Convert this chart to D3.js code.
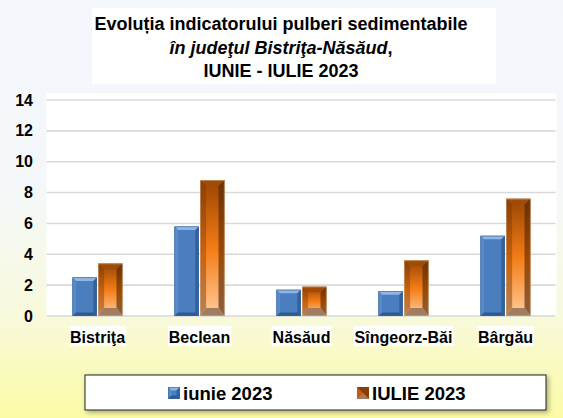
<!DOCTYPE html>
<html><head><meta charset="utf-8">
<script src="https://cdn.jsdelivr.net/npm/d3@7"></script>
<style>html,body{margin:0;padding:0;}svg{display:block;}</style>
</head><body>
<script>
const categories = ["Bistriţa", "Beclean", "Năsăud", "Sîngeorz-Băi", "Bârgău"];
const seriesNames = ["iunie 2023", "IULIE 2023"];
const iunie = [2.5, 5.8, 1.7, 1.6, 5.2];
const iulie = [3.4, 8.8, 1.9, 3.6, 7.6];
const yTicks = [0, 2, 4, 6, 8, 10, 12, 14];
const titleLines = ["Evoluția indicatorului pulberi sedimentabile", "în judeţul Bistriţa-Năsăud", "IUNIE - IULIE 2023"];

const W = 563, H = 418;
const svg = d3.select("body").append("svg").attr("width", W).attr("height", H);
const defs = svg.append("defs");

const bg = defs.append("linearGradient").attr("id", "bg").attr("x1", 0).attr("y1", 0).attr("x2", 0).attr("y2", 1);
bg.append("stop").attr("offset", "0%").attr("stop-color", "#f3f7fc");
bg.append("stop").attr("offset", "45%").attr("stop-color", "#f4f8fa");
bg.append("stop").attr("offset", "75%").attr("stop-color", "#f8f9dc");
bg.append("stop").attr("offset", "100%").attr("stop-color", "#fbfba6");

const og = defs.append("linearGradient").attr("id", "og").attr("x1", 0).attr("y1", 0).attr("x2", 0).attr("y2", 1);
og.append("stop").attr("offset", "0%").attr("stop-color", "#9a4504");
og.append("stop").attr("offset", "50%").attr("stop-color", "#f37c16");
og.append("stop").attr("offset", "100%").attr("stop-color", "#ffcc9a");
const osg = defs.append("linearGradient").attr("id", "osg").attr("x1", 0).attr("y1", 0).attr("x2", 0).attr("y2", 1);
osg.append("stop").attr("offset", "0%").attr("stop-color", "#8a3e05");
osg.append("stop").attr("offset", "55%").attr("stop-color", "#c8640f");
osg.append("stop").attr("offset", "100%").attr("stop-color", "#b88258");
const osr = defs.append("linearGradient").attr("id", "osr").attr("x1", 0).attr("y1", 0).attr("x2", 0).attr("y2", 1);
osr.append("stop").attr("offset", "0%").attr("stop-color", "#6a3003");
osr.append("stop").attr("offset", "55%").attr("stop-color", "#9a4a08");
osr.append("stop").attr("offset", "100%").attr("stop-color", "#8a6040");

const sh = defs.append("filter").attr("id", "sh").attr("x", "-10%").attr("y", "-30%").attr("width", "120%").attr("height", "160%");
sh.append("feGaussianBlur").attr("in", "SourceAlpha").attr("stdDeviation", 2.5).attr("result", "b");
sh.append("feOffset").attr("in", "b").attr("dx", 2).attr("dy", 2).attr("result", "o");
sh.append("feComponentTransfer").attr("in", "o").attr("result", "o2").append("feFuncA").attr("type", "linear").attr("slope", 0.35);
const fm = sh.append("feMerge");
fm.append("feMergeNode").attr("in", "o2");
fm.append("feMergeNode").attr("in", "SourceGraphic");

svg.append("rect").attr("width", W).attr("height", H).attr("fill", "url(#bg)");

// title
svg.append("rect").attr("x", 92).attr("y", 8).attr("width", 404).attr("height", 76).attr("fill", "#ffffff");
const title = svg.append("text").attr("text-anchor", "middle").attr("font-family", "Liberation Sans, Arial, sans-serif")
  .attr("font-weight", "bold").attr("font-size", 18).attr("fill", "#000");
titleLines.forEach((t, i) => {
  const ts = title.append("tspan").attr("x", 281).attr("y", 30 + i * 23.5);
  if (i === 1) {
    ts.append("tspan").attr("font-style", "italic").text(t);
    ts.append("tspan").text(",");
  } else ts.text(t);
});

const plot = {left: 46.5, right: 556.5, top: 93, bottom: 316};
svg.append("rect").attr("x", plot.left).attr("y", plot.top).attr("width", plot.right - plot.left).attr("height", plot.bottom - plot.top).attr("fill", "#ffffff");

const y = d3.scaleLinear().domain([0, 14]).range([316, 100]);
const x0 = d3.scaleBand().domain(categories).range([plot.left, plot.right]).paddingInner(0.51).paddingOuter(0.255);
const x1 = d3.scaleBand().domain(seriesNames).range([0, x0.bandwidth()]).paddingInner(0.05);

// grid
svg.append("g").selectAll("line").data(yTicks).join("line")
  .attr("x1", plot.left).attr("x2", plot.right - 1)
  .attr("y1", d => y(d)).attr("y2", d => y(d))
  .attr("stroke", "#d9d9d9").attr("stroke-width", 1.6);

// y axis labels
const yAxis = d3.axisLeft(y).tickValues(yTicks).tickSize(0).tickPadding(0);
const yg = svg.append("g").attr("transform", "translate(33,0)").call(yAxis);
yg.select(".domain").remove();
yg.selectAll("text").attr("font-family", "Liberation Sans, Arial, sans-serif").attr("font-weight", "bold")
  .attr("font-size", 16).attr("fill", "#000");

function blueBar(g, bx, by, bw, bh) {
  const b = 3.5;
  const bb = Math.min(b, bh / 2);
  g.append("rect").attr("x", bx).attr("y", by).attr("width", bw).attr("height", bh).attr("fill", "#4a7ebf");
  g.append("path").attr("d", `M${bx},${by}L${bx + bw},${by}L${bx + bw - b},${by + bb}L${bx + b},${by + bb}Z`).attr("fill", "#8fb6e4");
  g.append("path").attr("d", `M${bx},${by}L${bx + b},${by + bb}L${bx + b},${by + bh - bb}L${bx},${by + bh}Z`).attr("fill", "#5a8bc8");
  g.append("path").attr("d", `M${bx + bw},${by}L${bx + bw - b},${by + bb}L${bx + bw - b},${by + bh - bb}L${bx + bw},${by + bh}Z`).attr("fill", "#34619b");
  g.append("path").attr("d", `M${bx},${by + bh}L${bx + b},${by + bh - bb}L${bx + bw - b},${by + bh - bb}L${bx + bw},${by + bh}Z`).attr("fill", "#2f5a90");
  g.append("rect").attr("x", bx + 0.3).attr("y", by + 0.3).attr("width", bw - 0.6).attr("height", bh - 0.6)
    .attr("fill", "none").attr("stroke", "#3a679f").attr("stroke-width", 0.6);
}
function orangeBar(g, bx, by, bw, bh) {
  const b = Math.min(6, bw / 4);
  const bt = Math.min(5.5, bh / 3), bbm = Math.min(8, bh / 3);
  g.append("rect").attr("x", bx).attr("y", by).attr("width", bw).attr("height", bh).attr("fill", "url(#og)");
  g.append("path").attr("d", `M${bx},${by}L${bx + b},${by + bt}L${bx + b},${by + bh - bbm}L${bx},${by + bh}Z`).attr("fill", "url(#osg)");
  g.append("path").attr("d", `M${bx + bw},${by}L${bx + bw - b},${by + bt}L${bx + bw - b},${by + bh - bbm}L${bx + bw},${by + bh}Z`).attr("fill", "url(#osr)");
  g.append("path").attr("d", `M${bx},${by}L${bx + bw},${by}L${bx + bw - b},${by + bt}L${bx + b},${by + bt}Z`).attr("fill", "#a04c06");
  g.append("path").attr("d", `M${bx},${by + bh}L${bx + b},${by + bh - bbm}L${bx + bw - b},${by + bh - bbm}L${bx + bw},${by + bh}Z`).attr("fill", "#a27c5e");
  g.append("rect").attr("x", bx + 0.3).attr("y", by + 0.3).attr("width", bw - 0.6).attr("height", bh - 0.6)
    .attr("fill", "none").attr("stroke", "#c9a27f").attr("stroke-width", 0.6);
}

const bars = svg.append("g");
categories.forEach((c, i) => {
  const g = bars.append("g");
  const bw = x1.bandwidth();
  const xa = x0(c) + x1(seriesNames[0]);
  blueBar(g, xa, y(iunie[i]), bw, y(0) - y(iunie[i]));
  const xb = x0(c) + x1(seriesNames[1]);
  orangeBar(g, xb, y(iulie[i]), bw, y(0) - y(iulie[i]));
});

// category labels with white boxes
const xAxis = d3.axisBottom(x0).tickSize(0).tickPadding(0);
const xg = svg.append("g").attr("transform", "translate(0,328)").call(xAxis);
xg.select(".domain").remove();
xg.selectAll("text").attr("font-family", "Liberation Sans, Arial, sans-serif").attr("font-weight", "bold")
  .attr("font-size", 16).attr("fill", "#000").attr("dy", "0.95em");
xg.selectAll(".tick").each(function () {
  const t = d3.select(this).select("text");
  const bb = t.node().getBBox();
  d3.select(this).insert("rect", "text").attr("x", bb.x - 1).attr("y", -2).attr("width", bb.width + 2).attr("height", 20).attr("fill", "#fff");
});

// legend
const lg = svg.append("g");
lg.append("rect").attr("x", 85).attr("y", 375).attr("width", 461).attr("height", 35).attr("fill", "#fff")
  .attr("stroke", "#222").attr("stroke-width", 1).attr("filter", "url(#sh)");
const legendItems = [{name: seriesNames[0], x: 168, c: "blue"}, {name: seriesNames[1], x: 357, c: "orange"}];
legendItems.forEach(it => {
  const gg = lg.append("g");
  if (it.c === "blue") blueBar(gg, it.x, 387, 12, 12);
  else {
    gg.append("rect").attr("x", it.x).attr("y", 387).attr("width", 12).attr("height", 12).attr("fill", "#c45c10");
    gg.append("path").attr("d", `M${it.x},${387}L${it.x + 12},${387}L${it.x + 12},${399}Z`).attr("fill", "#8a3e05");
    gg.append("path").attr("d", `M${it.x},${399}L${it.x + 12},${399}L${it.x + 6},${393}Z`).attr("fill", "#a27c5e");
  }
  gg.append("text").attr("x", it.x + 15).attr("y", 399.5).attr("font-family", "Liberation Sans, Arial, sans-serif")
    .attr("font-weight", "bold").attr("font-size", 18.5).attr("fill", "#000").text(it.name);
});
</script>
</body></html>
